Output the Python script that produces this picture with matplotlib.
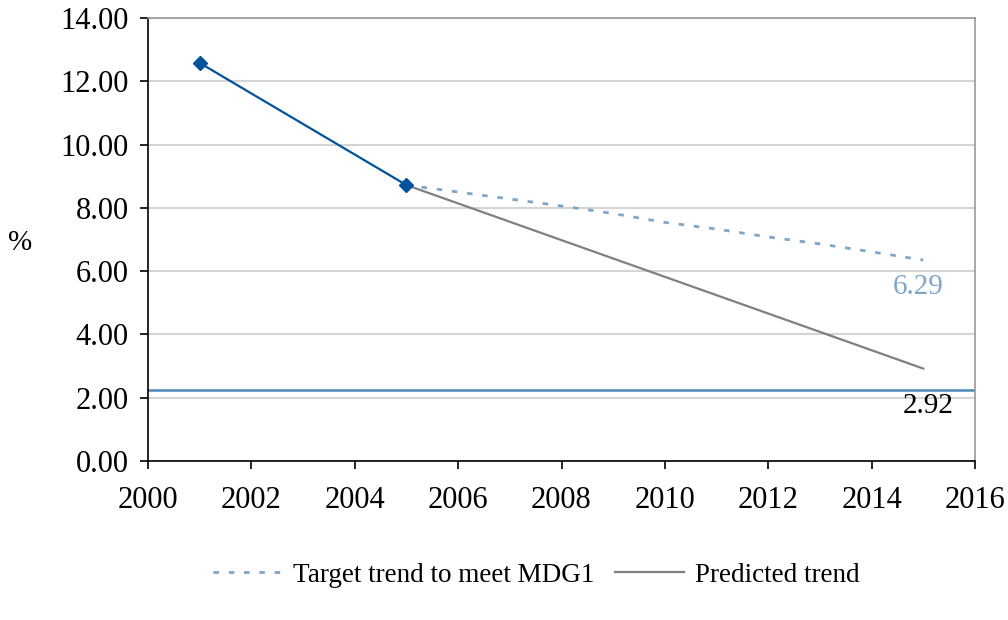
import matplotlib
matplotlib.use("Agg")
import matplotlib.pyplot as plt
from matplotlib.lines import Line2D

plt.rcParams["font.family"] = ["Liberation Serif", "DejaVu Serif"]

# Observed values
obs_years = [2001, 2005]
obs_values = [12.58, 8.72]

# Target trend to meet MDG1
target_years = [2005, 2006, 2007, 2008, 2009, 2010, 2011, 2012, 2013, 2014, 2015]
target_values = [8.72, 8.50, 8.28, 8.06, 7.82, 7.54, 7.33, 7.08, 6.86, 6.61, 6.35]

# Predicted trend
pred_years = [2005, 2015]
pred_values = [8.72, 2.92]

# Threshold line
threshold = 2.25

target_label = "6.29"
pred_label = "2.92"

fig = plt.figure(figsize=(10.08, 6.2), dpi=100)
ax = fig.add_axes([148 / 1008, 1 - 461 / 620, (975 - 148) / 1008, (461 - 18) / 620])

ax.set_xlim(2000, 2016)
ax.set_ylim(0, 14)
ax.set_xticks(range(2000, 2017, 2))
ax.set_yticks(range(0, 15, 2))
ax.set_yticklabels([f"{v:.2f}" for v in range(0, 15, 2)])

ax.grid(axis="y", color="#d4d4d4", linewidth=1.5)
ax.set_axisbelow(True)

ax.axhline(threshold, color="#4a86b8", linewidth=1.8, zorder=2)
ax.plot(target_years, target_values, color="#7ea6c9", linewidth=2.0,
        linestyle=(0, (2.0, 3.5)), zorder=3)
ax.plot(pred_years, pred_values, color="#808080", linewidth=1.6, zorder=3)
ax.plot(obs_years, obs_values, color="#00539b", linewidth=1.6, marker="D",
        markersize=7, zorder=4)

ax.text(target_years[-1] - 0.1, 5.5, target_label, color="#7ea6c9", fontsize=21,
        ha="center", va="center")
ax.text(pred_years[-1] + 0.1, 1.75, pred_label, color="black", fontsize=21,
        ha="center", va="center")

for side in ["left", "bottom"]:
    ax.spines[side].set_color("black")
    ax.spines[side].set_linewidth(1.2)
for side in ["top", "right"]:
    ax.spines[side].set_color("#999999")
    ax.spines[side].set_linewidth(1.2)

ax.tick_params(axis="both", labelsize=22, direction="out", length=6, width=1.2)
ax.tick_params(axis="x", pad=12)
ax.tick_params(axis="y", pad=8)

fig.text(20 / 1008, 1 - 243 / 620, "%", fontsize=21, ha="center", va="center")

handles = [
    Line2D([], [], color="#7ea6c9", linewidth=2.0, linestyle=(0, (2.0, 3.5))),
    Line2D([], [], color="#808080", linewidth=1.6),
]
fig.legend(handles, ["Target trend to meet MDG1", "Predicted trend"],
           loc="center", bbox_to_anchor=(0.532, 1 - 575 / 620), ncol=2,
           frameon=False, fontsize=19.5, handlelength=2.55, handletextpad=0.4,
           columnspacing=0.75)

fig.savefig("out.png", dpi=100)
